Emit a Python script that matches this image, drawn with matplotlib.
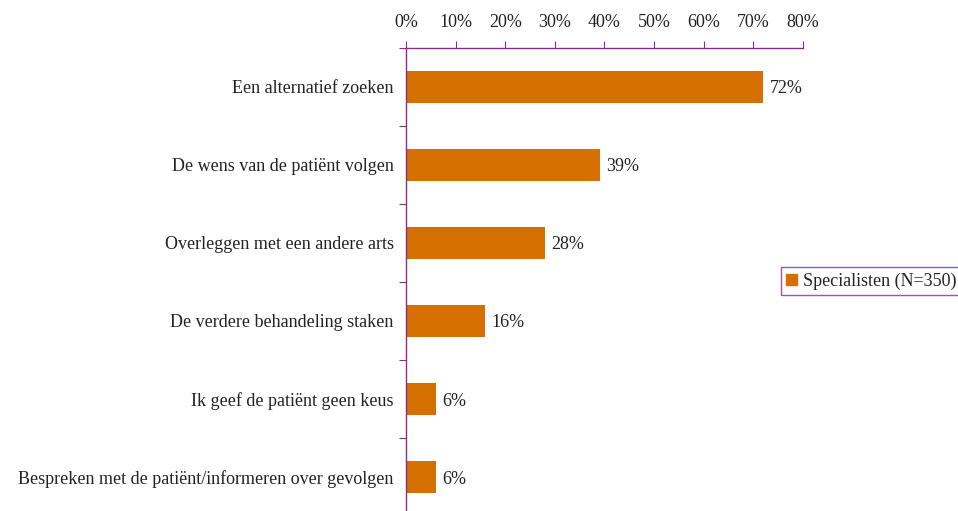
import numpy as np
import matplotlib.pyplot as plt
from matplotlib.ticker import FixedLocator, PercentFormatter
from matplotlib.patches import Patch

plt.rcParams['font.family'] = ['Liberation Serif', 'DejaVu Serif']

categories = ['Een alternatief zoeken',
              'De wens van de patiënt volgen',
              'Overleggen met een andere arts',
              'De verdere behandeling staken',
              'Ik geef de patiënt geen keus',
              'Bespreken met de patiënt/informeren over gevolgen']
values = [72, 39, 28, 16, 6, 6]
series_name = 'Specialisten (N=350)'

bar_color = '#D46F00'
axis_color = '#8B2C8B'
text_color = '#222222'
fs = 13

fig = plt.figure(figsize=(9.58, 5.11), dpi=100)
ax = fig.add_axes([0.4238, -0.0098, 0.4144, 0.9159])

y = np.arange(len(categories))
ax.barh(y, values, height=0.41, color=bar_color)
ax.set_xlim(0, 80)
ax.set_ylim(len(categories) - 0.5, -0.5)

for yi, v in zip(y, values):
    ax.text(v + 1.3, yi, f'{v}%', va='center_baseline', ha='left',
            fontsize=fs, color=text_color)

# x axis on top, percent ticks
ax.xaxis.tick_top()
ax.set_xticks(np.arange(0, 81, 10))
ax.xaxis.set_major_formatter(PercentFormatter(decimals=0))
ax.tick_params(axis='x', direction='out', length=5, color=axis_color,
               labelsize=fs, labelcolor=text_color, pad=7)

# category labels in the middle, tick marks on band boundaries
ax.yaxis.set_major_locator(FixedLocator(np.arange(len(categories) + 1) - 0.5))
ax.yaxis.set_major_formatter(plt.NullFormatter())
ax.yaxis.set_minor_locator(FixedLocator(y))
ax.set_yticklabels(categories, minor=True, va='center_baseline')
ax.tick_params(axis='y', which='major', direction='out', length=5,
               color=axis_color)
ax.tick_params(axis='y', which='minor', length=0, labelsize=fs,
               labelcolor=text_color, pad=9)

for side in ['right', 'bottom']:
    ax.spines[side].set_visible(False)
for side in ['top', 'left']:
    ax.spines[side].set_color(axis_color)
    ax.spines[side].set_linewidth(1.0)

leg = fig.legend(handles=[Patch(color=bar_color, label=series_name)],
                 loc='upper left', bbox_to_anchor=(781 / 958, 1 - 267 / 511),
                 fontsize=fs, frameon=True, fancybox=False,
                 handlelength=0.6, handleheight=0.6, handletextpad=0.3,
                 borderpad=0.3, borderaxespad=0)
leg.get_frame().set_edgecolor(axis_color)
leg.get_frame().set_linewidth(1.0)
for t in leg.get_texts():
    t.set_color(text_color)

fig.savefig('out.png', dpi=100)
